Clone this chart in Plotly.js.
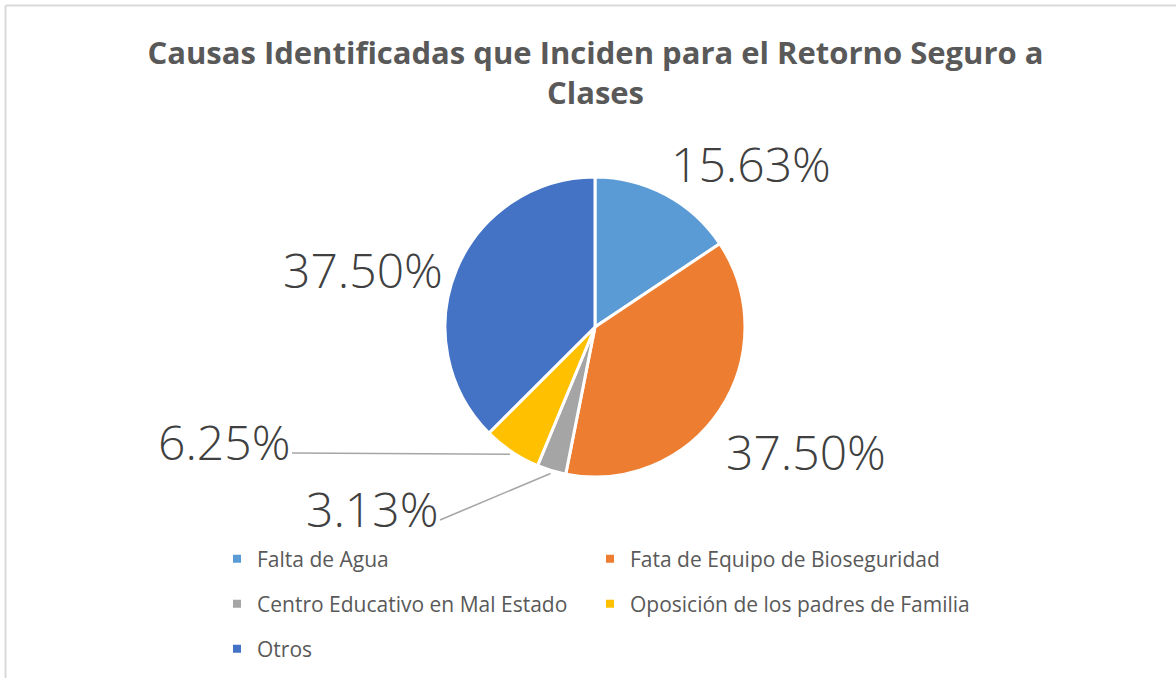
<!DOCTYPE html>
<html>
<head>
<meta charset="utf-8">
<script src="https://cdn.plot.ly/plotly-3.0.1.min.js"></script>
<style>
  html, body { margin: 0; padding: 0; background: #ffffff; }
  #chart { width: 1176px; height: 678px; }
</style>
</head>
<body>
<div id="chart"></div>
<script>
// ---- data ----
const categories = [
  'Falta de Agua',
  'Fata de Equipo de Bioseguridad',
  'Centro Educativo en Mal Estado',
  'Oposición de los padres de Familia',
  'Otros'
];
const percentages = [15.63, 37.50, 3.13, 6.25, 37.50];
const colors = ['#5B9BD5', '#ED7D31', '#A5A5A5', '#FFC000', '#4472C4'];
const titleText = 'Causas Identificadas que Inciden para el Retorno Seguro a<br>Clases';

// ---- layout geometry (pixels) ----
const W = 1176, H = 678;
const CX = 595, CY = 327, R = 150;
const px = x => x / W;
const py = y => 1 - y / H;

// label centres (pixels) and leader settings per slice
const labelPos = [
  {x: 751, y: 164},
  {x: 806, y: 451},
  {x: 440, y: 520, leader: true},
  {x: 292, y: 453, leader: true},
  {x: 363, y: 269}
];

// legend entry positions (pixels): one legend box per entry, two columns
const legendPos = [
  {x: 217, y: 559},
  {x: 590, y: 559},
  {x: 217, y: 604},
  {x: 590, y: 604},
  {x: 217, y: 649}
];

const total = percentages.reduce((a, b) => a + b, 0);
let cum = 0;
const annotations = [];
percentages.forEach((v, i) => {
  const mid = (cum + v / 2) / total * 2 * Math.PI;
  cum += v;
  const txt = v.toFixed(2) + '%';
  const lp = labelPos[i];
  const font = {family: 'Open Sans, Noto Sans, sans-serif', size: 48, color: '#404040', weight: 300};
  if (lp.leader) {
    const rt = R + 3;
    const tx = CX + rt * Math.sin(mid);
    const ty = CY - rt * Math.cos(mid);
    annotations.push({
      xref: 'paper', yref: 'paper', x: px(tx), y: py(ty),
      ax: lp.x - tx, ay: lp.y - ty, axref: 'pixel', ayref: 'pixel',
      showarrow: true, arrowhead: 0, arrowwidth: 1.6, arrowcolor: '#A6A6A6',
      standoff: 0, startstandoff: 0,
      xanchor: 'right', yanchor: 'middle',
      height: 88, valign: 'top',
      text: txt, font: font
    });
  } else {
    annotations.push({
      xref: 'paper', yref: 'paper', x: px(lp.x), y: py(lp.y),
      xanchor: 'center', yanchor: 'middle', showarrow: false,
      text: txt, font: font
    });
  }
});

const traces = [{
  type: 'pie',
  labels: categories,
  values: percentages,
  sort: false,
  direction: 'clockwise',
  rotation: 0,
  marker: {colors: colors, line: {color: '#ffffff', width: 3}},
  textinfo: 'none',
  hoverinfo: 'label+value',
  showlegend: false,
  domain: {x: [px(CX - R), px(CX + R)], y: [py(CY + R), py(CY - R)]}
}];

const legendBase = {
  orientation: 'h', xanchor: 'left', yanchor: 'middle',
  font: {family: 'Open Sans, Noto Sans, sans-serif', size: 21, color: '#595959'},
  bgcolor: 'rgba(0,0,0,0)', borderwidth: 0, itemwidth: 30,
  traceorder: 'normal', itemclick: false, itemdoubleclick: false
};

const layout = {
  width: W, height: H,
  margin: {l: 0, r: 0, t: 0, b: 0},
  paper_bgcolor: '#ffffff', plot_bgcolor: '#ffffff',
  title: {
    text: titleText,
    font: {family: 'Open Sans, Noto Sans, sans-serif', size: 31, color: '#595959', weight: 'bold'},
    xref: 'container', yref: 'container',
    x: 595.5 / W, xanchor: 'center',
    y: 1 - 64 / H, yanchor: 'top'
  },
  xaxis: {visible: false, range: [0, 1], fixedrange: true},
  yaxis: {visible: false, range: [0, 1], fixedrange: true},
  showlegend: true,
  annotations: annotations,
  shapes: [
    {type: 'line', xref: 'paper', yref: 'paper', x0: px(5.5), x1: 1, y0: py(5.5), y1: py(5.5),
     line: {color: '#D9D9D9', width: 2}},
    {type: 'line', xref: 'paper', yref: 'paper', x0: px(5.5), x1: px(5.5), y0: py(5.5), y1: 0,
     line: {color: '#D9D9D9', width: 2}}
  ],
  hovermode: false
};

categories.forEach((c, i) => {
  const id = i === 0 ? 'legend' : 'legend' + (i + 1);
  layout[id] = Object.assign({}, legendBase, {x: px(legendPos[i].x), y: py(legendPos[i].y)});
  traces.push({
    type: 'scatter', x: [null], y: [null], mode: 'markers',
    name: c, legend: id,
    marker: {symbol: 'square', size: 8, color: colors[i]},
    hoverinfo: 'skip'
  });
});

Plotly.newPlot('chart', traces, layout, {displayModeBar: false, responsive: false});
</script>
</body>
</html>
